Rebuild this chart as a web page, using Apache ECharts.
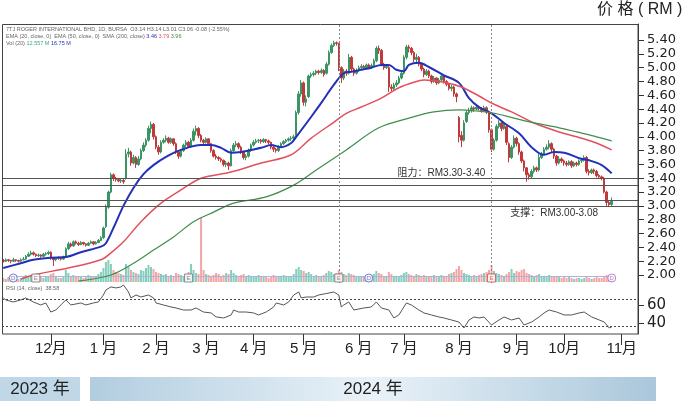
<!DOCTYPE html>
<html><head><meta charset="utf-8">
<script src="https://cdn.jsdelivr.net/npm/echarts@6/dist/echarts.min.js"></script>
<style>html,body{margin:0;padding:0;background:#fff;}#c{width:690px;height:401px;}</style>
</head><body><div id="c"></div>
<script>
// ---------- DATA ----------
const N_SLOTS = 254;
const days = Array.from({length: N_SLOTS}, (_, i) => String(i));
const monthTickIdx = [19, 40, 61, 81, 100, 120, 142, 160, 182, 205, 224, 247];
const monthLabels = ['12月', '1 月', '2 月', '3 月', '4 月', '5 月', '6 月', '7 月', '8 月', '9 月', '10月', '11月'];
const priceTicks = [2.00, 2.20, 2.40, 2.60, 2.80, 3.00, 3.20, 3.40, 3.60, 3.80, 4.00, 4.20, 4.40, 4.60, 4.80, 5.00, 5.20, 5.40];
const rsiTicks = [40, 60];
const yearLabels = ['2023 年', '2024 年'];

const opens = [
2.21,2.20,2.22,2.21,2.20,2.22,2.21,2.20,2.22,2.23,
2.27,2.30,2.32,2.30,2.28,2.29,2.27,2.30,2.31,2.33,
2.25,2.22,2.24,2.25,2.23,2.26,2.38,2.45,2.42,2.48,
2.46,2.44,2.47,2.45,2.43,2.46,2.48,2.45,2.47,2.50,
2.54,2.70,2.98,3.20,3.45,3.40,3.38,3.36,3.37,3.40,
3.75,3.78,3.62,3.70,3.60,3.68,3.80,3.88,3.95,4.12,
4.18,4.00,3.85,3.78,3.92,3.95,3.98,3.92,3.97,3.90,
3.78,3.72,3.80,3.88,3.92,3.86,3.95,4.08,4.12,4.02,
3.95,3.92,3.97,3.90,3.80,3.72,3.70,3.68,3.66,3.60,
3.62,3.58,3.80,3.88,3.90,3.85,3.78,3.70,3.72,3.80,
3.88,3.92,3.94,3.95,3.93,3.96,3.94,3.92,3.85,3.82,
3.80,3.86,3.90,3.93,3.95,3.97,3.98,4.02,4.35,4.62,
4.78,4.50,4.58,4.88,4.90,4.92,4.95,4.93,4.96,4.92,
5.05,5.22,5.32,5.36,5.35,5.00,4.85,4.95,4.92,5.15,
4.98,4.92,4.96,5.00,5.02,5.00,5.04,5.01,5.03,5.10,
5.28,5.25,5.05,5.00,5.00,4.72,4.70,4.75,4.78,4.85,
4.92,5.15,5.30,5.28,5.22,5.12,5.15,5.05,4.98,4.90,
4.95,4.88,4.80,4.85,4.78,4.82,4.88,4.80,4.76,4.70,
4.72,4.62,4.28,4.02,3.95,4.22,4.35,4.38,4.42,4.40,
4.43,4.41,4.38,4.42,4.36,4.10,3.82,3.95,4.15,4.20,
4.12,4.15,3.90,3.70,3.85,3.98,3.90,3.78,3.65,3.55,
3.45,3.42,3.50,3.55,3.52,3.70,3.75,3.82,3.85,3.90,
3.82,3.72,3.62,3.68,3.65,3.62,3.60,3.64,3.58,3.62,
3.60,3.65,3.66,3.70,3.50,3.48,3.52,3.50,3.44,3.42,
3.40,3.20,3.05,3.02];
const closes = [
2.20,2.22,2.21,2.20,2.22,2.21,2.20,2.22,2.23,2.27,
2.30,2.32,2.30,2.28,2.29,2.27,2.30,2.31,2.33,2.25,
2.22,2.24,2.25,2.23,2.26,2.38,2.45,2.42,2.48,2.46,
2.44,2.47,2.45,2.43,2.46,2.48,2.45,2.47,2.50,2.54,
2.68,2.98,3.20,3.45,3.40,3.38,3.36,3.37,3.35,3.75,
3.78,3.62,3.70,3.60,3.68,3.80,3.88,3.95,4.12,4.18,
4.00,3.85,3.78,3.92,3.95,3.98,3.92,3.97,3.90,3.78,
3.72,3.80,3.88,3.92,3.86,3.95,4.08,4.12,4.02,3.95,
3.92,3.97,3.90,3.80,3.72,3.70,3.68,3.66,3.60,3.62,
3.58,3.80,3.88,3.90,3.85,3.78,3.70,3.72,3.80,3.88,
3.92,3.94,3.95,3.93,3.96,3.94,3.92,3.85,3.82,3.80,
3.86,3.90,3.93,3.95,3.97,3.98,4.00,4.35,4.62,4.78,
4.50,4.55,4.88,4.90,4.92,4.95,4.93,4.96,4.90,5.05,
5.22,5.32,5.36,5.35,5.00,4.85,4.95,4.92,5.15,4.98,
4.92,4.96,5.00,5.02,5.00,5.04,5.01,5.03,5.10,5.28,
5.25,5.05,5.00,5.02,4.72,4.70,4.75,4.78,4.85,4.92,
5.15,5.30,5.28,5.22,5.12,5.15,5.05,4.98,4.90,4.95,
4.88,4.80,4.85,4.78,4.82,4.88,4.80,4.76,4.70,4.72,
4.62,4.58,4.00,3.95,4.20,4.35,4.38,4.42,4.40,4.43,
4.41,4.38,4.42,4.36,4.10,3.82,3.95,4.15,4.20,4.12,
4.18,3.92,3.70,3.85,3.98,3.90,3.78,3.65,3.55,3.45,
3.42,3.50,3.55,3.52,3.70,3.75,3.82,3.85,3.90,3.82,
3.72,3.62,3.68,3.65,3.62,3.60,3.64,3.58,3.62,3.60,
3.65,3.66,3.70,3.50,3.48,3.52,3.50,3.44,3.42,3.40,
3.20,3.05,3.02,3.08];
const lows = [
2.18,2.19,2.19,2.17,2.19,2.19,2.18,2.19,2.21,2.22,
2.26,2.28,2.28,2.26,2.26,2.25,2.26,2.28,2.29,2.22,
2.13,2.20,2.22,2.21,2.22,2.25,2.36,2.40,2.41,2.44,
2.42,2.43,2.43,2.41,2.42,2.45,2.43,2.44,2.46,2.49,
2.52,2.68,2.96,3.18,3.36,3.35,3.34,3.33,3.32,3.38,
3.70,3.58,3.60,3.55,3.58,3.66,3.78,3.85,3.93,4.05,
3.96,3.82,3.74,3.76,3.90,3.92,3.90,3.90,3.87,3.75,
3.68,3.70,3.78,3.85,3.84,3.84,3.93,4.02,3.98,3.92,
3.88,3.90,3.87,3.77,3.70,3.67,3.65,3.63,3.57,3.56,
3.52,3.57,3.78,3.85,3.82,3.75,3.67,3.66,3.70,3.78,
3.86,3.90,3.91,3.90,3.91,3.91,3.89,3.82,3.78,3.77,
3.78,3.84,3.88,3.91,3.93,3.94,3.95,4.00,4.32,4.58,
4.45,4.44,4.56,4.85,4.87,4.89,4.90,4.91,4.87,4.90,
5.03,5.20,5.30,5.32,4.95,4.78,4.82,4.88,4.90,4.95,
4.88,4.90,4.94,4.98,4.97,4.98,4.98,4.99,5.01,5.08,
5.20,5.02,4.97,4.98,4.65,4.66,4.67,4.72,4.76,4.83,
4.90,5.12,5.22,5.18,5.08,5.08,5.02,4.95,4.86,4.88,
4.85,4.77,4.78,4.75,4.76,4.80,4.77,4.73,4.67,4.66,
4.58,4.50,3.92,3.85,3.93,4.20,4.32,4.35,4.36,4.38,
4.38,4.35,4.36,4.33,4.06,3.78,3.80,3.93,4.12,4.08,
4.10,3.88,3.63,3.68,3.83,3.86,3.74,3.62,3.50,3.35,
3.38,3.40,3.47,3.49,3.50,3.68,3.73,3.80,3.82,3.78,
3.68,3.58,3.60,3.62,3.58,3.57,3.58,3.55,3.56,3.57,
3.58,3.62,3.64,3.47,3.44,3.46,3.46,3.41,3.39,3.37,
3.18,3.00,2.99,3.00];
const highs = [
2.23,2.24,2.23,2.22,2.25,2.23,2.22,2.24,2.26,2.29,
2.33,2.35,2.34,2.31,2.31,2.30,2.32,2.33,2.35,2.34,
2.26,2.26,2.27,2.26,2.28,2.40,2.48,2.47,2.50,2.50,
2.48,2.49,2.48,2.46,2.48,2.50,2.49,2.49,2.52,2.56,
2.70,3.02,3.22,3.48,3.47,3.42,3.40,3.40,3.39,3.82,
3.84,3.80,3.74,3.72,3.72,3.83,3.92,3.98,4.16,4.22,
4.20,4.02,3.88,3.95,3.98,4.02,4.00,3.99,3.98,3.92,
3.80,3.82,3.90,3.95,3.94,3.98,4.12,4.16,4.14,4.04,
3.97,3.99,3.98,3.91,3.82,3.75,3.72,3.70,3.67,3.65,
3.64,3.83,3.91,3.94,3.92,3.87,3.80,3.75,3.83,3.90,
3.95,3.97,3.97,3.97,3.98,3.97,3.96,3.93,3.87,3.84,
3.88,3.92,3.95,3.97,3.99,4.01,4.03,4.38,4.66,4.82,
4.80,4.60,4.90,4.93,4.95,4.97,4.97,4.99,4.98,5.08,
5.25,5.35,5.39,5.38,5.36,5.02,4.98,4.98,5.20,5.17,
5.00,4.99,5.03,5.05,5.04,5.06,5.06,5.06,5.13,5.31,
5.32,5.27,5.07,5.05,5.02,4.76,4.78,4.82,4.88,4.96,
5.18,5.33,5.33,5.30,5.24,5.20,5.17,5.07,5.00,4.98,
4.97,4.90,4.88,4.86,4.85,4.91,4.90,4.82,4.78,4.75,
4.74,4.64,4.30,4.08,4.24,4.38,4.42,4.45,4.44,4.46,
4.45,4.43,4.45,4.44,4.38,4.12,3.98,4.18,4.24,4.22,
4.21,4.17,3.92,3.88,4.02,4.00,3.92,3.80,3.67,3.56,
3.48,3.53,3.58,3.57,3.76,3.78,3.85,3.89,3.95,3.92,
3.84,3.74,3.72,3.70,3.67,3.65,3.66,3.66,3.64,3.64,
3.67,3.68,3.73,3.72,3.53,3.54,3.54,3.52,3.46,3.44,
3.42,3.22,3.08,3.12];
const volumes = [
4,3,5,3,4,6,3,4,5,7,
6,5,4,4,3,5,4,6,5,8,
9,5,4,4,6,12,9,6,7,5,
5,6,4,5,7,6,5,6,8,10,
14,20,22,18,12,10,9,8,7,18,
15,12,10,9,8,12,11,14,17,15,
13,10,9,8,7,8,6,7,6,9,
8,7,6,8,10,18,12,9,8,64,
12,8,7,6,7,9,8,6,7,9,
8,12,9,7,6,7,8,6,7,6,
5,6,7,5,6,5,4,6,7,5,
6,5,7,6,5,6,8,13,15,12,
11,9,10,8,6,7,6,5,7,9,
11,10,8,9,12,10,8,7,9,8,
7,6,5,6,5,6,5,7,8,11,
9,8,6,5,10,8,6,5,6,7,
9,10,8,7,6,8,7,6,7,6,
5,6,7,5,6,7,5,6,8,9,
10,13,16,12,9,8,7,6,7,6,
7,8,9,10,12,17,11,9,8,7,
6,8,10,13,9,11,10,12,13,9,
8,7,6,7,8,6,5,6,7,6,
5,6,5,4,5,4,5,4,3,4,
4,3,4,5,4,3,4,5,4,4,
6,7,5,4];
const ema20 = [[0,2.10],[7,2.17],[12,2.22],[19,2.25],[25,2.26],[31,2.33],[39,2.41],[41,2.46],[44,2.68],[48,3.00],[52,3.26],[56,3.46],[60,3.59],[65,3.71],[71,3.81],[79,3.88],[83,3.88],[87,3.84],[91,3.77],[95,3.78],[99,3.81],[103,3.84],[107,3.88],[111,3.85],[115,3.91],[117,4.00],[123,4.29],[127,4.49],[132,4.75],[136,4.92],[139,4.94],[143,4.97],[147,5.00],[151,5.04],[154,5.04],[157,4.97],[160,4.95],[162,5.04],[166,5.07],[170,5.01],[176,4.89],[182,4.78],[186,4.56],[190,4.43],[195,4.34],[200,4.20],[206,4.05],[211,3.85],[216,3.74],[220,3.78],[224,3.77],[230,3.69],[234,3.66],[239,3.59],[243,3.47]];
const ema50 = [[7,1.94],[12,2.00],[26,2.10],[39,2.22],[43,2.32],[48,2.48],[55,2.77],[63,3.04],[71,3.23],[79,3.40],[91,3.49],[103,3.62],[115,3.74],[123,3.98],[132,4.21],[137,4.34],[143,4.43],[151,4.56],[158,4.71],[164,4.79],[168,4.82],[176,4.79],[183,4.72],[190,4.59],[196,4.47],[203,4.36],[212,4.20],[222,4.07],[229,4.00],[236,3.92],[243,3.81]];
const sma200 = [[30,1.91],[43,2.00],[52,2.17],[60,2.36],[68,2.55],[76,2.77],[84,2.91],[92,3.04],[105,3.13],[116,3.30],[125,3.52],[137,3.81],[150,4.13],[162,4.27],[172,4.36],[182,4.39],[190,4.37],[196,4.34],[204,4.27],[212,4.20],[222,4.13],[229,4.07],[236,4.01],[243,3.94]];
const rsi = [[0,67.7],[1,65.5],[4,63.3],[7,65.5],[9,67.7],[12,63.3],[15,60],[17,62.2],[19,52.3],[21,54.5],[23,60],[25,65.5],[27,60],[31,62.2],[33,60],[36,62.2],[38,63.3],[40,70.9],[41,76.4],[43,79.7],[45,78.6],[47,79.7],[48,81.9],[50,74.2],[51,67.7],[53,70.9],[55,68.7],[58,70.9],[60,67.7],[61,62.2],[64,60],[67,57.8],[69,56.7],[72,54.5],[75,54.5],[77,56.7],[80,52.3],[83,51.3],[85,47],[88,45.8],[91,49.1],[92,54.5],[94,52.3],[97,52.3],[100,51.3],[102,49.1],[105,52.3],[108,57.8],[109,62.2],[112,60],[114,63.3],[116,70.9],[118,74.2],[119,67.7],[121,68.7],[124,68.7],[126,70.9],[129,72.5],[132,74.2],[134,70.9],[135,57.8],[136,60],[138,63.3],[140,54.5],[144,56.7],[147,57.8],[149,63.3],[151,56.7],[154,54.5],[156,45.8],[158,49.1],[161,62.2],[163,60],[166,54.5],[168,51.3],[171,49.1],[174,46.9],[176,45.8],[179,43.6],[182,41.4],[184,34.9],[186,43.6],[188,46.9],[190,45.8],[192,46.9],[195,38.1],[198,43.6],[200,46.9],[203,43.6],[206,45.8],[208,38.1],[211,41.4],[214,46.9],[216,51.3],[218,54.5],[221,52.3],[224,49.1],[227,49.1],[230,51.3],[232,52.3],[235,46.9],[238,43.6],[240,41.4],[242,34.9],[243,36]];
const rsiBands = [66.2, 37];
const resistance = [3.30, 3.40];
const support = [3.00, 3.08];
const eventIdx = [4, 13, 74, 134, 146, 195, 243];
const eventTypes = ['D', 'E', 'E', 'E', 'D', 'E', 'D'];
const eventLevel = 4;

// ---------- CHART ----------
const FONT = '"Liberation Sans","Noto Sans CJK SC",sans-serif';
const AXFONT = '"DejaVu Sans","Noto Sans CJK SC",sans-serif';
const UP = '#3a9463', DOWN = '#bf3a3a';
const eventStroke = ['#5060cc', '#777', '#777', '#777', '#5060cc', '#d24a4a', '#a066c8'];

const chart = echarts.init(document.getElementById('c'), null, {renderer: 'canvas'});
const ohlc = opens.map((o, i) => [o, closes[i], lows[i], highs[i]]);
const volData = volumes.map((v, i) => ({
  value: v,
  itemStyle: {color: closes[i] >= opens[i] ? 'rgba(92,190,165,0.75)' : 'rgba(240,135,135,0.75)'}
}));
const isMonth = (i) => monthTickIdx.indexOf(i) >= 0;
const hiddenX = (g) => ({type: 'category', gridIndex: g, data: days, boundaryGap: true,
  axisLine: {show: false}, axisTick: {show: false}, axisLabel: {show: false}, splitLine: {show: false}});

const hLines = resistance.concat(support).map(v => ({yAxis: v}));
const option = {
  animation: false,
  textStyle: {fontFamily: FONT},
  grid: [
    {left: 2, top: 24, width: 636, height: 259},
    {left: 2, top: 218, width: 636, height: 64},
    {left: 2, top: 283, width: 636, height: 51}
  ],
  xAxis: [
    hiddenX(0), hiddenX(1),
    {type: 'category', gridIndex: 2, data: days, boundaryGap: true,
     axisLine: {show: false},
     axisTick: {show: true, interval: (i) => isMonth(i), alignWithLabel: true, length: 11, lineStyle: {color: '#333', width: 1}},
     axisLabel: {show: true, interval: (i) => isMonth(i), formatter: (v, i) => monthLabels[monthTickIdx.indexOf(Number(v))] || '',
       margin: 7, fontSize: 15, color: '#222', fontFamily: FONT},
     splitLine: {show: false}}
  ],
  yAxis: [
    {type: 'value', gridIndex: 0, position: 'right', min: 1.884, max: 5.632,
     axisLine: {show: true, lineStyle: {color: '#333', width: 1}},
     axisTick: {show: true, length: 6, customValues: priceTicks, lineStyle: {color: '#333'}},
     axisLabel: {show: true, customValues: priceTicks, formatter: (v) => Number(v).toFixed(2), margin: 9,
       fontSize: 13, color: '#222', fontFamily: AXFONT},
     splitLine: {show: false}},
    {type: 'value', gridIndex: 1, min: 0, max: 64, show: false, splitLine: {show: false}},
    {type: 'value', gridIndex: 2, position: 'right', min: 28.3, max: 84,
     axisLine: {show: true, lineStyle: {color: '#333', width: 1}},
     axisTick: {show: true, length: 6, customValues: rsiTicks, lineStyle: {color: '#333'}},
     axisLabel: {show: true, customValues: rsiTicks, margin: 9, fontSize: 15, color: '#222', fontFamily: AXFONT},
     splitLine: {show: false}}
  ],
  series: [
    {name: 'vol', type: 'bar', xAxisIndex: 1, yAxisIndex: 1, data: volData, barWidth: 2, z: 1, silent: true},
    {name: 'evline', type: 'line', xAxisIndex: 1, yAxisIndex: 1,
     data: [[days[eventIdx[0]], eventLevel + 1.5], [days[eventIdx[eventIdx.length - 1]], eventLevel + 1.5]],
     showSymbol: false, lineStyle: {color: '#aab4dc', width: 1}, z: 2, silent: true},
    {name: 'events', type: 'scatter', xAxisIndex: 1, yAxisIndex: 1,
     data: eventIdx.map((ix, k) => ({
       value: [days[ix], eventLevel],
       symbol: eventTypes[k] === 'D' ? 'circle' : 'rect',
       itemStyle: {color: '#fff', borderColor: eventStroke[k], borderWidth: 1},
       label: {show: true, formatter: eventTypes[k], position: 'inside', fontSize: 6, color: eventStroke[k]}
     })),
     symbolSize: 8, z: 5, silent: true},
    {name: 'k', type: 'candlestick', xAxisIndex: 0, yAxisIndex: 0, data: ohlc, barWidth: 2, z: 3,
     itemStyle: {color: UP, color0: DOWN, borderColor: UP, borderColor0: DOWN, borderWidth: 1},
     markLine: {silent: true, symbol: ['none', 'none'], label: {show: false},
       lineStyle: {color: '#555', width: 1.2, type: 'solid'},
       data: hLines.concat([
         {xAxis: days[134], lineStyle: {color: '#888', width: 1, type: [2, 2]}},
         {xAxis: days[195], lineStyle: {color: '#888', width: 1, type: [2, 2]}}
       ])}},
    {name: 'EMA20', type: 'line', xAxisIndex: 0, yAxisIndex: 0, data: ema20, showSymbol: false, smooth: 0.35,
     lineStyle: {color: '#2231b8', width: 2}, z: 4, silent: true},
    {name: 'EMA50', type: 'line', xAxisIndex: 0, yAxisIndex: 0, data: ema50, showSymbol: false, smooth: 0.35,
     lineStyle: {color: '#e2505e', width: 1.5}, z: 4, silent: true},
    {name: 'SMA200', type: 'line', xAxisIndex: 0, yAxisIndex: 0, data: sma200, showSymbol: false, smooth: 0.35,
     lineStyle: {color: '#3f8e4c', width: 1.2}, z: 4, silent: true},
    {name: 'RSI', type: 'line', xAxisIndex: 2, yAxisIndex: 2, data: rsi, showSymbol: false,
     lineStyle: {color: '#555', width: 1}, silent: true,
     markLine: {silent: true, symbol: ['none', 'none'], label: {show: false},
       lineStyle: {color: '#444', width: 1, type: [2, 2]},
       data: rsiBands.map(v => ({yAxis: v}))}}
  ]
};
chart.setOption(option);

const pRes = chart.convertToPixel({gridIndex: 0}, [days[175], 3.476]);
const pSup = chart.convertToPixel({gridIndex: 0}, [days[220], 2.897]);
const tiny = {fontSize: 5.5, fontFamily: FONT, fill: '#666'};
chart.setOption({
  graphic: [
    {type: 'rect', silent: true, z: 100, shape: {x: 2.5, y: 24.5, width: 635.5, height: 309.5},
     style: {fill: 'none', stroke: '#444', lineWidth: 1}},
    {type: 'text', silent: true, x: 597, y: 2,
     style: {text: '价 格 ( RM )', fontSize: 16, fontFamily: FONT, fill: '#222'}},
    {type: 'text', silent: true, x: pRes[0], y: pRes[1],
     style: {text: '阻力：RM3.30-3.40', fontSize: 10, fontFamily: FONT, fill: '#333', align: 'center', verticalAlign: 'middle'}},
    {type: 'text', silent: true, x: pSup[0], y: pSup[1],
     style: {text: '支撑：RM3.00-3.08', fontSize: 10, fontFamily: FONT, fill: '#333', align: 'center', verticalAlign: 'middle'}},
    {type: 'text', silent: true, x: 6, y: 27,
     style: Object.assign({text: '7TJ ROGER INTERNATIONAL BHD, 1D, BURSA  O3.14 H3.14 L3.01 C3.06 -0.08 (-2.55%)'}, tiny)},
    {type: 'text', silent: true, x: 6, y: 33.5,
     style: {text: '{g|EMA (20, close, 0)  EMA (50, close, 0)  SMA (200, close)} {b|3.46} {r|3.79} {gr|3.96}',
       fontSize: 5.5, fontFamily: FONT,
       rich: {g: {fill: '#666', fontSize: 5.5}, b: {fill: '#2231b8', fontSize: 5.5}, r: {fill: '#e2505e', fontSize: 5.5}, gr: {fill: '#3f8e4c', fontSize: 5.5}}}},
    {type: 'text', silent: true, x: 6, y: 40,
     style: {text: '{g|Vol (20)} {t|12.557 M} {b|16.75 M}', fontSize: 5.5, fontFamily: FONT,
       rich: {g: {fill: '#666', fontSize: 5.5}, t: {fill: '#3aa88e', fontSize: 5.5}, b: {fill: '#2231b8', fontSize: 5.5}}}},
    {type: 'text', silent: true, x: 6, y: 286,
     style: Object.assign({text: 'RSI (14, close)  38.58'}, tiny)},
    {type: 'rect', silent: true, shape: {x: 0, y: 377, width: 80, height: 24}, style: {fill: '#bfd7e7'}},
    {type: 'text', silent: true, x: 40, y: 389,
     style: {text: yearLabels[0], fontSize: 17, fontFamily: FONT, fill: '#222', align: 'center', verticalAlign: 'middle'}},
    {type: 'rect', silent: true, shape: {x: 90, y: 377, width: 566, height: 24},
     style: {fill: new echarts.graphic.LinearGradient(0, 0, 1, 0, [
       {offset: 0, color: '#b2cde0'}, {offset: 0.5, color: '#e9f2f8'}, {offset: 1, color: '#aac7db'}])}},
    {type: 'text', silent: true, x: 373, y: 389,
     style: {text: yearLabels[1], fontSize: 17, fontFamily: FONT, fill: '#222', align: 'center', verticalAlign: 'middle'}}
  ]
});
</script>
</body></html>
